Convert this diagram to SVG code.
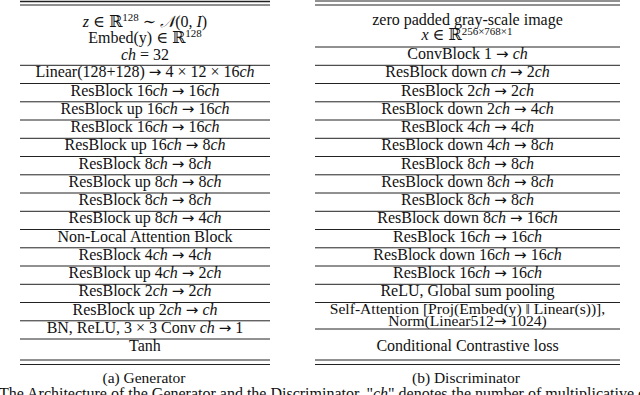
<svg xmlns="http://www.w3.org/2000/svg" width="640" height="395" viewBox="0 0 640 395">
<style>
text{font-family:"Liberation Serif","DejaVu Serif",serif;font-size:16px;fill:#111;text-anchor:middle}
.m{font-style:italic}
.ar{font-family:"DejaVu Sans",sans-serif;font-size:15px}
.sup{font-size:11px}
.cap{font-size:15.5px}
.tight{font-size:15.6px}
line{stroke:#222;stroke-width:1}
.thick{stroke-width:1.6}
</style>
<rect width="640" height="395" fill="#fff"/>
<g id="generator">
  <g id="gen-rules">
    <line class="thick" x1="20" y1="1.5" x2="270" y2="1.5"/>
    <line x1="20" y1="5" x2="270" y2="5"/>
    <line x1="20" y1="65.3" x2="270" y2="65.3"/>
    <line x1="20" y1="83.5" x2="270" y2="83.5"/>
    <line x1="20" y1="101.8" x2="270" y2="101.8"/>
    <line x1="20" y1="120" x2="270" y2="120"/>
    <line x1="20" y1="138.3" x2="270" y2="138.3"/>
    <line x1="20" y1="156.5" x2="270" y2="156.5"/>
    <line x1="20" y1="174.8" x2="270" y2="174.8"/>
    <line x1="20" y1="193" x2="270" y2="193"/>
    <line x1="20" y1="211.3" x2="270" y2="211.3"/>
    <line x1="20" y1="229.5" x2="270" y2="229.5"/>
    <line x1="20" y1="247.8" x2="270" y2="247.8"/>
    <line x1="20" y1="266" x2="270" y2="266"/>
    <line x1="20" y1="284.3" x2="270" y2="284.3"/>
    <line x1="20" y1="302.5" x2="270" y2="302.5"/>
    <line x1="20" y1="320.8" x2="270" y2="320.8"/>
    <line x1="20" y1="339" x2="270" y2="339"/>
    <line x1="20" y1="360" x2="270" y2="360"/>
    <line x1="20" y1="364.5" x2="270" y2="364.5"/>
  </g>
  <g id="gen-input">
    <text x="145" y="26.7"><tspan class="m">z</tspan> ∈ ℝ<tspan class="sup" dy="-6">128</tspan><tspan dy="6"> ∼ </tspan><tspan class="m">𝒩</tspan>(0, <tspan class="m">I</tspan>)</text>
    <text x="145" y="43.3">Embed(y) ∈ ℝ<tspan class="sup" dy="-6">128</tspan></text>
    <text x="145" y="59.5"><tspan class="m">ch</tspan> = 32</text>
  </g>
  <g id="gen-linear"><text x="145" y="77.3">Linear(128+128) <tspan class="ar">→</tspan> 4 × 12 × 16<tspan class="m">ch</tspan></text></g>
  <g id="gen-r1"><text x="145" y="95.5">ResBlock 16<tspan class="m">ch</tspan> <tspan class="ar">→</tspan> 16<tspan class="m">ch</tspan></text></g>
  <g id="gen-r2"><text x="145" y="113.8">ResBlock up 16<tspan class="m">ch</tspan> <tspan class="ar">→</tspan> 16<tspan class="m">ch</tspan></text></g>
  <g id="gen-r3"><text x="145" y="132">ResBlock 16<tspan class="m">ch</tspan> <tspan class="ar">→</tspan> 16<tspan class="m">ch</tspan></text></g>
  <g id="gen-r4"><text x="145" y="150.3">ResBlock up 16<tspan class="m">ch</tspan> <tspan class="ar">→</tspan> 8<tspan class="m">ch</tspan></text></g>
  <g id="gen-r5"><text x="145" y="168.5">ResBlock 8<tspan class="m">ch</tspan> <tspan class="ar">→</tspan> 8<tspan class="m">ch</tspan></text></g>
  <g id="gen-r6"><text x="145" y="186.8">ResBlock up 8<tspan class="m">ch</tspan> <tspan class="ar">→</tspan> 8<tspan class="m">ch</tspan></text></g>
  <g id="gen-r7"><text x="145" y="205">ResBlock 8<tspan class="m">ch</tspan> <tspan class="ar">→</tspan> 8<tspan class="m">ch</tspan></text></g>
  <g id="gen-r8"><text x="145" y="223.3">ResBlock up 8<tspan class="m">ch</tspan> <tspan class="ar">→</tspan> 4<tspan class="m">ch</tspan></text></g>
  <g id="gen-nonlocal"><text x="145" y="241.5">Non-Local Attention Block</text></g>
  <g id="gen-r9"><text x="145" y="259.8">ResBlock 4<tspan class="m">ch</tspan> <tspan class="ar">→</tspan> 4<tspan class="m">ch</tspan></text></g>
  <g id="gen-r10"><text x="145" y="278">ResBlock up 4<tspan class="m">ch</tspan> <tspan class="ar">→</tspan> 2<tspan class="m">ch</tspan></text></g>
  <g id="gen-r11"><text x="145" y="296.3">ResBlock 2<tspan class="m">ch</tspan> <tspan class="ar">→</tspan> 2<tspan class="m">ch</tspan></text></g>
  <g id="gen-r12"><text x="145" y="314.5">ResBlock up 2<tspan class="m">ch</tspan> <tspan class="ar">→</tspan> <tspan class="m">ch</tspan></text></g>
  <g id="gen-bn"><text x="145" y="332.8">BN, ReLU, 3 × 3 Conv <tspan class="m">ch</tspan> <tspan class="ar">→</tspan> 1</text></g>
  <g id="gen-tanh"><text x="145" y="351">Tanh</text></g>
  <text class="cap" x="144" y="382.5">(a) Generator</text>
</g>
<g id="discriminator">
  <g id="dis-rules">
    <line x1="315" y1="1" x2="620" y2="1" stroke-width="2"/>
    <line x1="315" y1="5" x2="620" y2="5"/>
    <line x1="315" y1="47" x2="620" y2="47"/>
    <line x1="315" y1="65.3" x2="620" y2="65.3"/>
    <line x1="315" y1="83.5" x2="620" y2="83.5"/>
    <line x1="315" y1="101.8" x2="620" y2="101.8"/>
    <line x1="315" y1="120" x2="620" y2="120"/>
    <line x1="315" y1="138.3" x2="620" y2="138.3"/>
    <line x1="315" y1="156.5" x2="620" y2="156.5"/>
    <line x1="315" y1="174.8" x2="620" y2="174.8"/>
    <line x1="315" y1="193" x2="620" y2="193"/>
    <line x1="315" y1="211.3" x2="620" y2="211.3"/>
    <line x1="315" y1="229.5" x2="620" y2="229.5"/>
    <line x1="315" y1="247.8" x2="620" y2="247.8"/>
    <line x1="315" y1="266" x2="620" y2="266"/>
    <line x1="315" y1="284.3" x2="620" y2="284.3"/>
    <line x1="315" y1="302.5" x2="620" y2="302.5"/>
    <line x1="315" y1="329" x2="620" y2="329"/>
    <line x1="315" y1="360" x2="620" y2="360"/>
    <line x1="315" y1="364.5" x2="620" y2="364.5"/>
  </g>
  <g id="dis-input">
    <text x="467.5" y="24.5">zero padded gray-scale image</text>
    <text x="467" y="40" font-size="14"><tspan class="m">x</tspan> ∈ ℝ<tspan class="sup" font-size="10" dy="-5.5">256×768×1</tspan></text>
  </g>
  <g id="dis-conv"><text x="467.5" y="59">ConvBlock 1 <tspan class="ar">→</tspan> <tspan class="m">ch</tspan></text></g>
  <g id="dis-r1"><text x="467.5" y="77.3">ResBlock down <tspan class="m">ch</tspan> <tspan class="ar">→</tspan> 2<tspan class="m">ch</tspan></text></g>
  <g id="dis-r2"><text x="467.5" y="95.5">ResBlock 2<tspan class="m">ch</tspan> <tspan class="ar">→</tspan> 2<tspan class="m">ch</tspan></text></g>
  <g id="dis-r3"><text x="467.5" y="113.8">ResBlock down 2<tspan class="m">ch</tspan> <tspan class="ar">→</tspan> 4<tspan class="m">ch</tspan></text></g>
  <g id="dis-r4"><text x="467.5" y="132">ResBlock 4<tspan class="m">ch</tspan> <tspan class="ar">→</tspan> 4<tspan class="m">ch</tspan></text></g>
  <g id="dis-r5"><text x="467.5" y="150.3">ResBlock down 4<tspan class="m">ch</tspan> <tspan class="ar">→</tspan> 8<tspan class="m">ch</tspan></text></g>
  <g id="dis-r6"><text x="467.5" y="168.5">ResBlock 8<tspan class="m">ch</tspan> <tspan class="ar">→</tspan> 8<tspan class="m">ch</tspan></text></g>
  <g id="dis-r7"><text x="467.5" y="186.8">ResBlock down 8<tspan class="m">ch</tspan> <tspan class="ar">→</tspan> 8<tspan class="m">ch</tspan></text></g>
  <g id="dis-r8"><text x="467.5" y="205">ResBlock 8<tspan class="m">ch</tspan> <tspan class="ar">→</tspan> 8<tspan class="m">ch</tspan></text></g>
  <g id="dis-r9"><text x="467.5" y="223.3">ResBlock down 8<tspan class="m">ch</tspan> <tspan class="ar">→</tspan> 16<tspan class="m">ch</tspan></text></g>
  <g id="dis-r10"><text x="467.5" y="241.5">ResBlock 16<tspan class="m">ch</tspan> <tspan class="ar">→</tspan> 16<tspan class="m">ch</tspan></text></g>
  <g id="dis-r11"><text x="467.5" y="259.8">ResBlock down 16<tspan class="m">ch</tspan> <tspan class="ar">→</tspan> 16<tspan class="m">ch</tspan></text></g>
  <g id="dis-r12"><text x="467.5" y="278">ResBlock 16<tspan class="m">ch</tspan> <tspan class="ar">→</tspan> 16<tspan class="m">ch</tspan></text></g>
  <g id="dis-pool"><text x="467.5" y="296.3">ReLU, Global sum pooling</text></g>
  <g id="dis-attn">
    <text class="tight" x="467.5" y="313.6">Self-Attention [Proj(Embed(y) ‖ Linear(s))],</text>
    <text class="tight" x="467.5" y="326.2">Norm(Linear512<tspan class="ar">→</tspan> 1024)</text>
  </g>
  <g id="dis-loss"><text x="467.5" y="351">Conditional Contrastive loss</text></g>
  <text class="cap" x="466" y="382.5">(b) Discriminator</text>
</g>
<text x="-1" y="398.8" style="text-anchor:start">The Architecture of the Generator and the Discriminator. "<tspan class="m">ch</tspan>" denotes the number of multiplicative channels</text>
</svg>
